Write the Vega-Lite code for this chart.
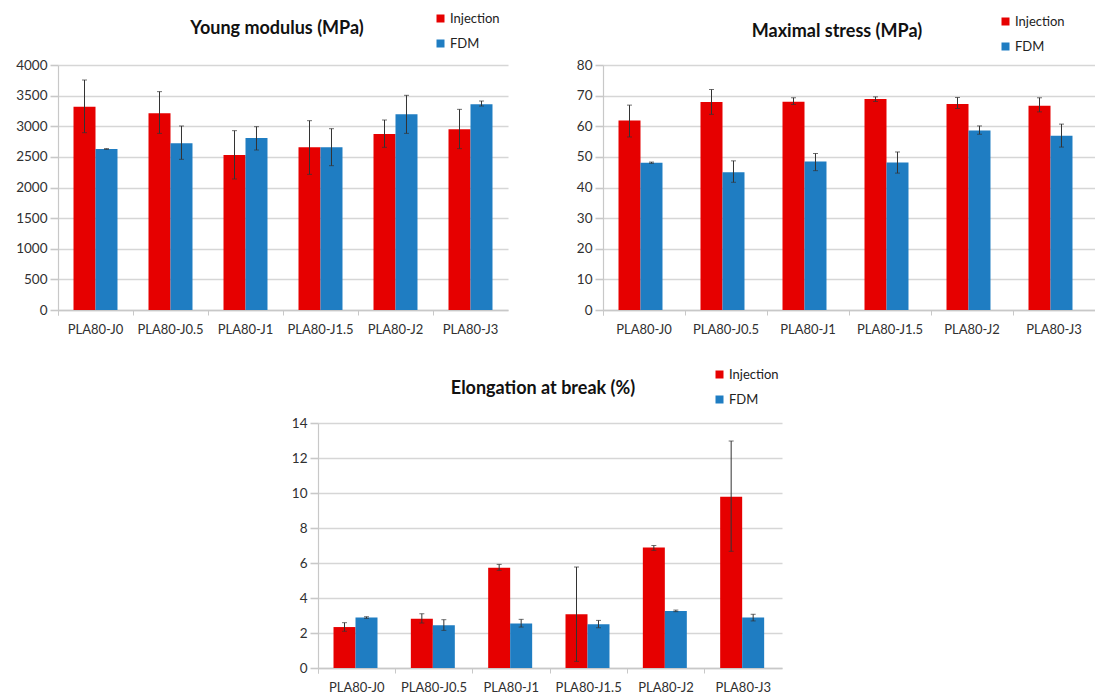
{
  "$schema": "https://vega.github.io/schema/vega-lite/v6.json",
  "padding": {"left": 15, "top": 12, "right": 0, "bottom": 0},
  "background": "white",
  "datasets": {
    "young": [
      {"cat": "PLA80-J0", "series": "Injection", "value": 3320, "lo": 2895, "hi": 3755},
      {"cat": "PLA80-J0", "series": "FDM", "value": 2629, "lo": 2624, "hi": 2634},
      {"cat": "PLA80-J0.5", "series": "Injection", "value": 3211, "lo": 2884, "hi": 3565},
      {"cat": "PLA80-J0.5", "series": "FDM", "value": 2721, "lo": 2460, "hi": 3004},
      {"cat": "PLA80-J1", "series": "Injection", "value": 2531, "lo": 2139, "hi": 2928},
      {"cat": "PLA80-J1", "series": "FDM", "value": 2808, "lo": 2612, "hi": 2993},
      {"cat": "PLA80-J1.5", "series": "Injection", "value": 2656, "lo": 2215, "hi": 3091},
      {"cat": "PLA80-J1.5", "series": "FDM", "value": 2656, "lo": 2356, "hi": 2960},
      {"cat": "PLA80-J2", "series": "Injection", "value": 2873, "lo": 2656, "hi": 3102},
      {"cat": "PLA80-J2", "series": "FDM", "value": 3195, "lo": 2884, "hi": 3505},
      {"cat": "PLA80-J3", "series": "Injection", "value": 2950, "lo": 2634, "hi": 3276},
      {"cat": "PLA80-J3", "series": "FDM", "value": 3358, "lo": 3330, "hi": 3412}
    ],
    "stress": [
      {"cat": "PLA80-J0", "series": "Injection", "value": 61.9, "lo": 56.5, "hi": 66.9},
      {"cat": "PLA80-J0", "series": "FDM", "value": 48.1, "lo": 47.9, "hi": 48.3},
      {"cat": "PLA80-J0.5", "series": "Injection", "value": 67.9, "lo": 63.9, "hi": 72.0},
      {"cat": "PLA80-J0.5", "series": "FDM", "value": 45.0, "lo": 41.7, "hi": 48.7},
      {"cat": "PLA80-J1", "series": "Injection", "value": 68.0, "lo": 67.1, "hi": 69.3},
      {"cat": "PLA80-J1", "series": "FDM", "value": 48.5, "lo": 45.5, "hi": 51.1},
      {"cat": "PLA80-J1.5", "series": "Injection", "value": 68.9, "lo": 68.1, "hi": 69.6},
      {"cat": "PLA80-J1.5", "series": "FDM", "value": 48.2, "lo": 44.7, "hi": 51.6},
      {"cat": "PLA80-J2", "series": "Injection", "value": 67.3, "lo": 65.8, "hi": 69.4},
      {"cat": "PLA80-J2", "series": "FDM", "value": 58.6, "lo": 57.4, "hi": 60.1},
      {"cat": "PLA80-J3", "series": "Injection", "value": 66.7, "lo": 64.7, "hi": 69.3},
      {"cat": "PLA80-J3", "series": "FDM", "value": 56.9, "lo": 53.2, "hi": 60.7}
    ],
    "elong": [
      {"cat": "PLA80-J0", "series": "Injection", "value": 2.34, "lo": 2.1, "hi": 2.59},
      {"cat": "PLA80-J0", "series": "FDM", "value": 2.88, "lo": 2.84, "hi": 2.93},
      {"cat": "PLA80-J0.5", "series": "Injection", "value": 2.82, "lo": 2.57, "hi": 3.1},
      {"cat": "PLA80-J0.5", "series": "FDM", "value": 2.44, "lo": 2.15, "hi": 2.76},
      {"cat": "PLA80-J1", "series": "Injection", "value": 5.73, "lo": 5.58, "hi": 5.92},
      {"cat": "PLA80-J1", "series": "FDM", "value": 2.55, "lo": 2.34, "hi": 2.78},
      {"cat": "PLA80-J1.5", "series": "Injection", "value": 3.07, "lo": 0.38, "hi": 5.77},
      {"cat": "PLA80-J1.5", "series": "FDM", "value": 2.5, "lo": 2.3, "hi": 2.72},
      {"cat": "PLA80-J2", "series": "Injection", "value": 6.88, "lo": 6.72, "hi": 7.0},
      {"cat": "PLA80-J2", "series": "FDM", "value": 3.26, "lo": 3.22, "hi": 3.31},
      {"cat": "PLA80-J3", "series": "Injection", "value": 9.79, "lo": 6.67, "hi": 12.97},
      {"cat": "PLA80-J3", "series": "FDM", "value": 2.88, "lo": 2.69, "hi": 3.07}
    ]
  },
  "spacing": 32,
  "resolve": {"scale": {"color": "independent"}, "legend": {"color": "independent"}},
  "vconcat": [
    {
      "bounds": "flush",
      "spacing": 95,
      "resolve": {"scale": {"color": "independent"}, "legend": {"color": "independent"}},
      "hconcat": [
        {
          "width": 450,
          "height": 245,
          "data": {"name": "young"},
          "title": {"text": "Young modulus (MPa)", "dx": -6, "offset": -26},
          "encoding": {
            "x": {"field": "cat", "type": "nominal", "sort": null, "title": null,
                  "scale": {"paddingInner": 0, "paddingOuter": 0}},
            "xOffset": {"field": "series", "type": "nominal", "sort": ["Injection", "FDM"],
                        "scale": {"paddingInner": 0, "paddingOuter": 0.705}}
          },
          "layer": [
            {
              "mark": {"type": "bar"},
              "encoding": {
                "y": {"field": "value", "type": "quantitative", "title": null,
                      "scale": {"domain": [0, 4000]}, "axis": {"format": "d", "values": [0,500,1000,1500,2000,2500,3000,3500,4000]}},
                "color": {"field": "series", "type": "nominal", "sort": ["Injection", "FDM"],
                          "scale": {"domain": ["Injection", "FDM"], "range": ["#e60000", "#1f7dc2"]},
                          "legend": {"orient": "none", "legendX": 376, "legendY": -53}}
              }
            },
            {"mark": {"type": "rule", "color": "#333333", "strokeWidth": 1},
             "encoding": {"y": {"field": "lo", "type": "quantitative", "title": null, "axis": {"format": "d", "values": [0,500,1000,1500,2000,2500,3000,3500,4000]}}, "y2": {"field": "hi"}}},
            {"mark": {"type": "tick", "color": "#333333", "thickness": 1, "size": 5},
             "encoding": {"y": {"field": "hi", "type": "quantitative", "title": null, "axis": {"format": "d", "values": [0,500,1000,1500,2000,2500,3000,3500,4000]}}}},
            {"mark": {"type": "tick", "color": "#333333", "thickness": 1, "size": 5},
             "encoding": {"y": {"field": "lo", "type": "quantitative", "title": null, "axis": {"format": "d", "values": [0,500,1000,1500,2000,2500,3000,3500,4000]}}}}
          ]
        },
        {
          "width": 492,
          "height": 245,
          "data": {"name": "stress"},
          "title": {"text": "Maximal stress (MPa)", "dx": -12, "offset": -26},
          "encoding": {
            "x": {"field": "cat", "type": "nominal", "sort": null, "title": null,
                  "scale": {"paddingInner": 0, "paddingOuter": 0}},
            "xOffset": {"field": "series", "type": "nominal", "sort": ["Injection", "FDM"],
                        "scale": {"paddingInner": 0, "paddingOuter": 0.864}}
          },
          "layer": [
            {
              "mark": {"type": "bar"},
              "encoding": {
                "y": {"field": "value", "type": "quantitative", "title": null,
                      "scale": {"domain": [0, 80]}, "axis": {"format": "d", "values": [0,10,20,30,40,50,60,70,80]}},
                "color": {"field": "series", "type": "nominal", "sort": ["Injection", "FDM"],
                          "scale": {"domain": ["Injection", "FDM"], "range": ["#e60000", "#1f7dc2"]},
                          "legend": {"orient": "none", "legendX": 396, "legendY": -50}}
              }
            },
            {"mark": {"type": "rule", "color": "#333333", "strokeWidth": 1},
             "encoding": {"y": {"field": "lo", "type": "quantitative", "title": null, "axis": {"format": "d", "values": [0,10,20,30,40,50,60,70,80]}}, "y2": {"field": "hi"}}},
            {"mark": {"type": "tick", "color": "#333333", "thickness": 1, "size": 5},
             "encoding": {"y": {"field": "hi", "type": "quantitative", "title": null, "axis": {"format": "d", "values": [0,10,20,30,40,50,60,70,80]}}}},
            {"mark": {"type": "tick", "color": "#333333", "thickness": 1, "size": 5},
             "encoding": {"y": {"field": "lo", "type": "quantitative", "title": null, "axis": {"format": "d", "values": [0,10,20,30,40,50,60,70,80]}}}}
          ]
        }
      ]
    },
    {
      "bounds": "flush",
      "spacing": 60,
      "resolve": {"scale": {"color": "independent"}, "legend": {"color": "independent"}},
      "hconcat": [
        {
          "width": 200,
          "height": 10,
          "data": {"values": []},
          "mark": {"type": "rule", "opacity": 0},
          "encoding": {}
        },
        {
          "width": 464,
          "height": 245,
          "data": {"name": "elong"},
          "title": {"text": "Elongation at break (%)", "dx": -7, "offset": -30},
          "encoding": {
            "x": {"field": "cat", "type": "nominal", "sort": null, "title": null,
                  "scale": {"paddingInner": 0, "paddingOuter": 0}},
            "xOffset": {"field": "series", "type": "nominal", "sort": ["Injection", "FDM"],
                        "scale": {"paddingInner": 0, "paddingOuter": 0.757}}
          },
          "layer": [
            {
              "mark": {"type": "bar"},
              "encoding": {
                "y": {"field": "value", "type": "quantitative", "title": null,
                      "scale": {"domain": [0, 14]}, "axis": {"format": "d", "values": [0,2,4,6,8,10,12,14]}},
                "color": {"field": "series", "type": "nominal", "sort": ["Injection", "FDM"],
                          "scale": {"domain": ["Injection", "FDM"], "range": ["#e60000", "#1f7dc2"]},
                          "legend": {"orient": "none", "legendX": 395, "legendY": -55}}
              }
            },
            {"mark": {"type": "rule", "color": "#333333", "strokeWidth": 1},
             "encoding": {"y": {"field": "lo", "type": "quantitative", "title": null, "axis": {"format": "d", "values": [0,2,4,6,8,10,12,14]}}, "y2": {"field": "hi"}}},
            {"mark": {"type": "tick", "color": "#333333", "thickness": 1, "size": 5},
             "encoding": {"y": {"field": "hi", "type": "quantitative", "title": null, "axis": {"format": "d", "values": [0,2,4,6,8,10,12,14]}}}},
            {"mark": {"type": "tick", "color": "#333333", "thickness": 1, "size": 5},
             "encoding": {"y": {"field": "lo", "type": "quantitative", "title": null, "axis": {"format": "d", "values": [0,2,4,6,8,10,12,14]}}}}
          ]
        }
      ]
    }
  ],
  "config": {
    "font": "Lato",
    "view": {"stroke": null},
    "title": {"font": "Lato", "fontSize": 18, "fontWeight": "bold", "color": "#111111", "anchor": "middle"},
    "axisY": {"labelFont": "Lato", "labelFontSize": 13.5, "labelColor": "#303030", "tickColor": "#c8c8c8", "tickSize": 8, "labelPadding": 3, "labelOverlap": false,
              "domainColor": "#c8c8c8", "gridColor": "#d6d6d6", "gridWidth": 1.6, "tickWidth": 1.6, "domainWidth": 1.2},
    "axisX": {"labelFont": "Lato", "labelFontSize": 13, "labelColor": "#303030", "labelAngle": 0, "tickColor": "#c8c8c8", "tickSize": 5,
              "bandPosition": 0, "tickExtra": true, "labelPadding": 8, "domainColor": "#c8c8c8", "domainWidth": 1.6, "grid": false},
    "legend": {"title": null, "direction": "vertical", "symbolType": "square", "symbolSize": 64, "symbolStrokeWidth": 0,
               "labelFont": "Lato", "labelFontSize": 13, "labelColor": "#222222", "rowPadding": 11, "labelOffset": 3}
  }
}
